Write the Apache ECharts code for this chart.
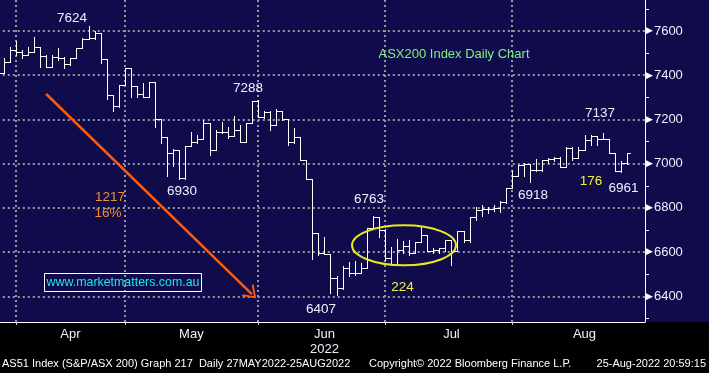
<!DOCTYPE html>
<html>
<head>
<meta charset="utf-8">
<script src="https://cdn.jsdelivr.net/npm/echarts@6/dist/echarts.min.js"></script>
<style>html,body{margin:0;padding:0;background:#000;}#c{width:709px;height:373px;}</style>
</head>
<body>
<div id="c"></div>
<script>
// ---- Data (ASX200 daily OHLC) ----
const dates = [
 '2022-03-29','2022-03-30','2022-03-31',
 '2022-04-01','2022-04-04','2022-04-05','2022-04-06','2022-04-07','2022-04-08','2022-04-11','2022-04-12','2022-04-13','2022-04-14','2022-04-19','2022-04-20','2022-04-21','2022-04-22','2022-04-26','2022-04-27','2022-04-28','2022-04-29',
 '2022-05-02','2022-05-03','2022-05-04','2022-05-05','2022-05-06','2022-05-09','2022-05-10','2022-05-11','2022-05-12','2022-05-13','2022-05-16','2022-05-17','2022-05-18','2022-05-19','2022-05-20','2022-05-23','2022-05-24','2022-05-25','2022-05-26','2022-05-27','2022-05-30','2022-05-31',
 '2022-06-01','2022-06-02','2022-06-03','2022-06-06','2022-06-07','2022-06-08','2022-06-09','2022-06-10','2022-06-14','2022-06-15','2022-06-16','2022-06-17','2022-06-20','2022-06-21','2022-06-22','2022-06-23','2022-06-24','2022-06-27','2022-06-28','2022-06-29','2022-06-30',
 '2022-07-01','2022-07-04','2022-07-05','2022-07-06','2022-07-07','2022-07-08','2022-07-11','2022-07-12','2022-07-13','2022-07-14','2022-07-15','2022-07-18','2022-07-19','2022-07-20','2022-07-21','2022-07-22','2022-07-25','2022-07-26','2022-07-27','2022-07-28','2022-07-29',
 '2022-08-01','2022-08-02','2022-08-03','2022-08-04','2022-08-05','2022-08-08','2022-08-09','2022-08-10','2022-08-11','2022-08-12','2022-08-15','2022-08-16','2022-08-17','2022-08-18','2022-08-19','2022-08-22','2022-08-23','2022-08-24','2022-08-25','2022-08-26'
];
const padDates = ['2022-08-29','2022-08-30','2022-08-31'];

const opens = [7395,7409,7461,7514,7507,7492,7507,7529,7487,7439,
 7484,7477,7451,7476,7522,7562,7567,7592,7472,7311,
 7261,7356,7431,7349,7315,7300,7367,7201,7120,7050,
 7060,6937,7078,7096,7111,7183,7062,7145,7145,7123,
 7153,7100,7183,7285,7210,7233,7175,7236,7201,7096,
 7120,7017,6930,6686,6598,6593,6483,6438,6528,6505,
 6505,6528,6709,6761,6701,6573,6543,6611,6626,6596,
 6648,6678,6603,6611,6618,6656,6603,6694,6653,6761,
 6791,6795,6795,6799,6825,6889,6945,6995,7000,6972,
 6972,7017,7020,7025,6987,7070,7025,7060,7105,7125,
 7110,7110,7047,6965,7002];
const highs = [7418,7476,7529,7556,7514,7529,7574,7529,7492,7492,
 7522,7484,7477,7522,7567,7624,7601,7592,7472,7311,
 7356,7431,7431,7349,7364,7367,7367,7201,7120,7065,
 7062,7080,7145,7130,7198,7183,7153,7190,7168,7216,
 7175,7183,7285,7288,7236,7236,7246,7236,7201,7160,
 7120,7017,6930,6686,6670,6593,6490,6535,6554,6558,
 6550,6709,6763,6761,6704,6623,6659,6652,6656,6648,
 6716,6678,6618,6618,6656,6656,6694,6694,6761,6806,
 6812,6806,6814,6829,6889,6972,6995,7002,7000,7020,
 7017,7025,7032,7032,7075,7075,7075,7130,7130,7125,
 7137,7110,7047,7010,7050];
const lows = [7385,7409,7461,7492,7477,7490,7507,7439,7439,7439,
 7469,7431,7446,7476,7522,7562,7562,7454,7291,7236,
 7258,7356,7303,7303,7300,7300,7165,7092,6942,6988,
 6932,6930,7078,7093,7111,7040,7062,7138,7115,7123,
 7100,7100,7183,7210,7206,7153,7175,7198,7085,7093,
 7017,6930,6569,6588,6593,6415,6407,6433,6493,6498,
 6505,6528,6709,6668,6566,6543,6543,6596,6588,6596,
 6648,6603,6596,6596,6603,6543,6603,6648,6648,6746,
 6764,6776,6784,6780,6822,6889,6945,6945,6918,6968,
 6968,7002,7014,6987,6987,7017,7025,7060,7085,7085,
 7110,7047,6965,6961,7000];
const closes = [7409,7461,7514,7507,7492,7507,7529,7487,7439,7484,
 7477,7451,7476,7522,7562,7567,7592,7472,7311,7261,
 7356,7431,7349,7315,7300,7367,7201,7120,7050,7060,
 6937,7078,7096,7111,7183,7062,7145,7145,7123,7153,
 7100,7183,7285,7210,7233,7175,7236,7201,7096,7120,
 7017,6930,6686,6598,6593,6483,6438,6528,6505,6505,
 6528,6709,6761,6701,6573,6543,6611,6626,6596,6648,
 6678,6603,6611,6618,6656,6603,6694,6653,6761,6791,
 6795,6795,6799,6825,6889,6945,6995,7000,6972,6972,
 7017,7020,7025,6987,7070,7025,7060,7105,7125,7110,
 7110,7047,6965,7002,7048.126];

const monthLabels = ['Apr','May','Jun\n2022','Jul','Aug'];
const monthLabelDates = ['2022-04-14','2022-05-17','2022-06-17','2022-07-18','2022-08-17'];
const yTickValues = [6400,6600,6800,7000,7200,7400,7600];

// arrow annotation endpoints (date, value)
const arrowFrom = ['2022-04-08', 7315];
const arrowTo = ['2022-05-31', 6410];

// ---- Build ----
const categories = dates.concat(padDates);
const ohlc = dates.map((d, i) => [i, opens[i], highs[i], lows[i], closes[i]]);
const monthStarts = new Set();
for (let i = 1; i < dates.length; i++) {
  if (dates[i].slice(5, 7) !== dates[i - 1].slice(5, 7)) monthStarts.add(i);
}
const labelMap = {};
monthLabelDates.forEach((d, k) => { labelMap[d] = monthLabels[k]; });
const lastClose = closes[closes.length - 1];

const NAVY = '#100c4c';
const GRIDC = '#9696a0';
const FONT = '"Liberation Sans",Arial,sans-serif';

const chart = echarts.init(document.getElementById('c'), null, {renderer: 'canvas'});

function txt(text, x, y, color, size, align) {
  return {type: 'text', z: 100, silent: true,
    style: {text: text, x: x, y: y, fill: color, font: size + 'px ' + FONT,
      textAlign: align || 'center', textVerticalAlign: 'middle'}};
}

const option = {
  animation: false,
  backgroundColor: '#000',
  grid: {left: -2.2, right: 64, top: 0, bottom: 51, containLabel: false, outerBoundsMode: 'none'},
  xAxis: {
    type: 'category', data: categories, boundaryGap: false,
    axisLine: {show: true, lineStyle: {color: '#ffffff', width: 1}},
    axisTick: {show: true, length: 3, interval: (i) => monthStarts.has(i), lineStyle: {color: '#d0d0d8'}},
    splitLine: {show: true, interval: (i) => monthStarts.has(i), lineStyle: {color: GRIDC, width: 2, type: [2, 3]}},
    axisLabel: {show: true, interval: (i, v) => labelMap[v] !== undefined,
      formatter: (v) => labelMap[v] || '', color: '#f0f0ff', fontSize: 13, lineHeight: 15, margin: 5,
      fontFamily: FONT}
  },
  yAxis: {
    type: 'value', position: 'right', min: 6284, max: 7740, splitNumber: 7, scale: true,
    axisLine: {show: true, lineStyle: {color: '#ffffff', width: 1}},
    axisTick: {show: false},
    minorTick: {show: true, splitNumber: 2, length: 4, lineStyle: {color: '#ffffff', width: 1}},
    splitLine: {show: true, showMinLine: false, showMaxLine: false, lineStyle: {color: GRIDC, width: 2, type: [2, 3]}},
    axisLabel: {show: true, showMinLabel: false, showMaxLabel: false, margin: 1,
      formatter: (v) => yTickValues.indexOf(v) >= 0 ? '{t|\u25B6}{v|' + v + '}' : '',
      rich: {t: {color: '#ffffff', fontSize: 9, fontFamily: 'DejaVu Sans', padding: [0, 1, 0, 0]},
             v: {color: '#eef0ff', fontSize: 13, fontFamily: FONT}}}
  },
  series: [{
    type: 'custom',
    data: ohlc,
    encode: {x: 0, y: [1, 2, 3, 4]},
    clip: true,
    renderItem: function (params, api) {
      const idx = api.value(0);
      const pO = api.coord([idx, api.value(1)]);
      const pH = api.coord([idx, api.value(2)]);
      const pL = api.coord([idx, api.value(3)]);
      const pC = api.coord([idx, api.value(4)]);
      const half = api.size([1, 0])[0] * 0.5;
      const cx = Math.round(pO[0]) + 0.5;
      const yo = Math.round(pO[1]) + 0.5, yc = Math.round(pC[1]) + 0.5;
      const st = {stroke: '#ffffff', lineWidth: 1};
      return {type: 'group', children: [
        {type: 'line', shape: {x1: cx, y1: Math.round(pH[1]), x2: cx, y2: Math.round(pL[1]) + 1}, style: st},
        {type: 'line', shape: {x1: Math.round(cx - half), y1: yo, x2: cx, y2: yo}, style: st},
        {type: 'line', shape: {x1: cx, y1: yc, x2: Math.round(cx + half), y2: yc}, style: st}
      ]};
    },
    markLine: {
      silent: true, symbol: 'none', animation: false,
      lineStyle: {opacity: 0},
      label: {show: true, position: 'end', distance: 1,
        formatter: () => '{a|\u25C0}{b|' + lastClose.toFixed(3) + '}',
        rich: {a: {color: '#ffffff', fontSize: 12, fontFamily: 'DejaVu Sans', padding: [0, -2, 0, 0]},
               b: {color: '#000000', backgroundColor: '#ffffff', fontSize: 13, padding: [1, 4, 0, 2],
                   fontFamily: FONT}}},
      data: [{yAxis: lastClose}]
    }
  }, {
    type: 'line', data: [], silent: true,
    markLine: {
      silent: true, animation: false,
      symbol: ['none', 'path://M0,10 L5,0 L10,10 L8.6,10 L5,2.6 L1.4,10 Z'], symbolSize: [17, 12],
      lineStyle: {color: '#ff5a0a', width: 2.5, type: 'solid'},
      label: {show: false},
      data: [[{coord: arrowFrom}, {coord: arrowTo}]]
    }
  }],
  graphic: [
    {type: 'rect', z: -100, silent: true, shape: {x: 0, y: 0, width: 709, height: 322}, style: {fill: NAVY}},
    txt('ASX200 Index Daily Chart', 454, 54, '#80f080', 13),
    txt('7624', 72, 18, '#eef0ff', 13.5),
    txt('7288', 248, 88.5, '#eef0ff', 13.5),
    txt('6930', 182, 191, '#eef0ff', 13.5),
    txt('6763', 369, 199, '#eef0ff', 13.5),
    txt('6407', 321, 309, '#eef0ff', 13.5),
    txt('6918', 533, 195, '#eef0ff', 13.5),
    txt('7137', 600, 113, '#eef0ff', 13.5),
    txt('6961', 623.5, 188.5, '#eef0ff', 13.5),
    txt('224', 402.5, 287.5, '#f0f03c', 13.5),
    txt('176', 591, 181.5, '#f0f03c', 13.5),
    txt('1217', 110, 197.5, '#f09030', 13.5),
    txt('16%', 108, 213, '#f09030', 13.5),
    {type: 'ellipse', z: 100, silent: true, shape: {cx: 404, cy: 245.3, rx: 52, ry: 20},
      style: {fill: 'none', stroke: '#e8e81e', lineWidth: 2}},
    {type: 'rect', z: 100, silent: true, shape: {x: 44.5, y: 273.5, width: 157, height: 18},
      style: {fill: 'none', stroke: '#ffffff', lineWidth: 1}},
    txt('www.marketmatters.com.au', 123, 283, '#20e4f0', 12.4),
    txt('AS51 Index (S&P/ASX 200) Graph 217  Daily 27MAY2022-25AUG2022', 2, 364, '#ffffff', 11, 'left'),
    txt('Copyright\u00A9 2022 Bloomberg Finance L.P.', 369, 364, '#ffffff', 11, 'left'),
    txt('25-Aug-2022 20:59:15', 706, 364, '#ffffff', 11, 'right')
  ]
};
chart.setOption(option);
</script>
</body>
</html>
